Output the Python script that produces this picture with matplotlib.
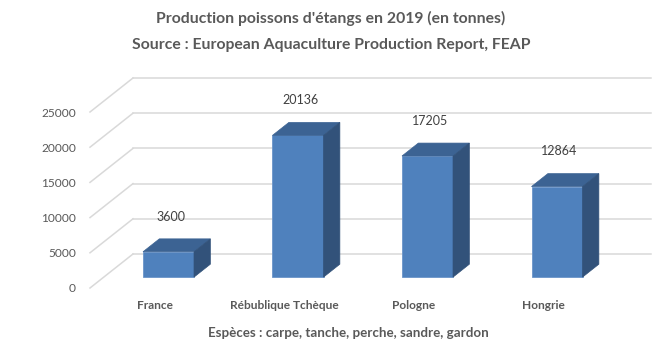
import matplotlib
matplotlib.use("Agg")
import matplotlib.pyplot as plt
from matplotlib.patches import Polygon
import numpy as np

categories = ["France", "Rébublique Tchèque", "Pologne", "Hongrie"]
values = [3600, 20136, 17205, 12864]
yticks = [0, 5000, 10000, 15000, 20000, 25000]
title_1 = "Production poissons d'étangs en 2019 (en tonnes)"
title_2 = "Source : European Aquaculture Production Report, FEAP"
xlabel = "Espèces : carpe, tanche, perche, sandre, gardon"

plt.rcParams['font.family'] = ['Lato', 'DejaVu Sans']

W, H = 663, 351
fig = plt.figure(figsize=(W / 100, H / 100), dpi=100)
ax = fig.add_axes([90 / W, (H - 288) / H, 561 / W, 210 / H])

DX = 0.332   # depth offset (category units)
DY = 4830    # depth offset (value units)
d0, d1 = 0.32, 0.70
bw = 0.394
n = len(categories)
ax.set_xlim(-0.5, n - 0.5 + DX)
ax.set_ylim(0, 25000 + DY)

grid_c = "#D9D9D9"
for v in yticks:
    ax.plot([-0.5, -0.5 + DX], [v, v + DY], color=grid_c, lw=1.1, zorder=0, clip_on=False)
    ax.plot([-0.5 + DX, n - 0.5 + DX], [v + DY, v + DY], color=grid_c, lw=1.1, zorder=0, clip_on=False)

front_c = "#4F81BD"
top_c = "#3C6393"
side_c = "#32527A"
xs = np.arange(n)
fx = xs + d0 * DX
ax.bar(fx, values, width=bw, bottom=d0 * DY, color=front_c, edgecolor="#6B95C9",
       linewidth=0.6, zorder=2)
ddx = (d1 - d0) * DX
for x, v in zip(fx, values):
    xl, xr = x - bw / 2, x + bw / 2
    top = Polygon([(xl, v + d0 * DY), (xr, v + d0 * DY), (xr + ddx, v + d1 * DY), (xl + ddx, v + d1 * DY)],
                  closed=True, facecolor=top_c, edgecolor=top_c, lw=0.5, zorder=3)
    side = Polygon([(xr, d0 * DY), (xr, v + d0 * DY), (xr + ddx, v + d1 * DY), (xr + ddx, d1 * DY)],
                   closed=True, facecolor=side_c, edgecolor=side_c, lw=0.5, zorder=3)
    ax.add_patch(top)
    ax.add_patch(side)

for i, v in enumerate(values):
    ax.annotate(str(v), (i + 0.37 * DX, v + d1 * DY), xytext=(0, 16), textcoords="offset points",
                ha="center", va="center", fontsize=9.0, color="#404040")

ax.set_yticks(yticks)
ax.set_yticklabels([str(t) for t in yticks], fontsize=8.6, color="#595959")
ax.set_xticks(xs)
ax.set_xticklabels(categories, fontsize=8.6, color="#595959", fontweight="bold")
ax.tick_params(axis="y", length=0, pad=10)
ax.tick_params(axis="x", length=0, pad=8.5)
for s in ax.spines.values():
    s.set_visible(False)
ax.set_facecolor("none")

fig.text(331 / W, 1 - 18 / H, title_1, ha="center", va="center", fontsize=11.3,
         fontweight="bold", color="#595959")
fig.text(331 / W, 1 - 45 / H, title_2, ha="center", va="center", fontsize=11.3,
         fontweight="bold", color="#595959")
fig.text(348 / W, 1 - 333 / H, xlabel, ha="center", va="center", fontsize=9.6,
         fontweight="bold", color="#595959")

fig.savefig("out.png", dpi=100)
